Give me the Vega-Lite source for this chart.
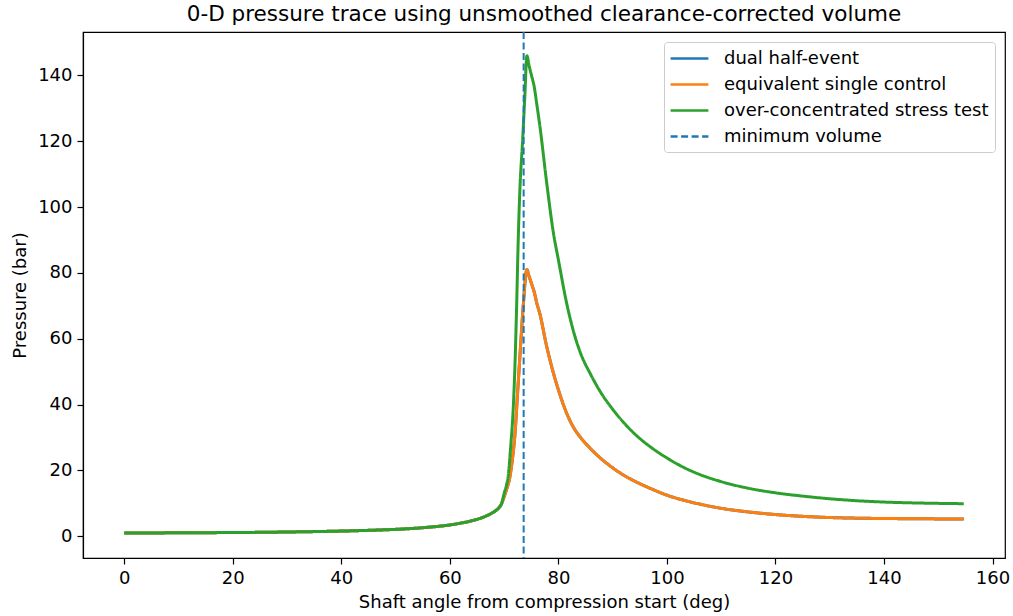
{
  "$schema": "https://vega.github.io/schema/vega-lite/v6.json",
  "width": 922,
  "height": 526,
  "autosize": {"type": "none"},
  "padding": {"left": 83, "top": 32, "right": 8, "bottom": 58},
  "background": "white",
  "title": {
    "text": "0-D pressure trace using unsmoothed clearance-corrected volume",
    "fontSize": 21.5,
    "font": "DejaVu Sans",
    "fontWeight": "normal",
    "color": "black",
    "anchor": "middle",
    "offset": 6
  },
  "config": {
    "view": {"stroke": "black", "strokeWidth": 1.2},
    "font": "DejaVu Sans",
    "axis": {
      "domainColor": "black",
      "domainWidth": 1.2,
      "tickColor": "black",
      "tickWidth": 1.2,
      "tickSize": 6,
      "labelColor": "black",
      "labelFontSize": 18,
      "labelFont": "DejaVu Sans",
      "labelPadding": 5,
      "titleColor": "black",
      "titleFontSize": 18,
      "titleFont": "DejaVu Sans",
      "titleFontWeight": "normal",
      "grid": false
    }
  },
  "data": {
    "values": [
      {"a": 0, "s": "dual half-event", "p": 1.0},
      {"a": 5, "s": "dual half-event", "p": 1.02},
      {"a": 10, "s": "dual half-event", "p": 1.05},
      {"a": 15, "s": "dual half-event", "p": 1.09},
      {"a": 20, "s": "dual half-event", "p": 1.14},
      {"a": 25, "s": "dual half-event", "p": 1.2},
      {"a": 30, "s": "dual half-event", "p": 1.3},
      {"a": 35, "s": "dual half-event", "p": 1.42},
      {"a": 40, "s": "dual half-event", "p": 1.58},
      {"a": 45, "s": "dual half-event", "p": 1.8},
      {"a": 50, "s": "dual half-event", "p": 2.1},
      {"a": 55, "s": "dual half-event", "p": 2.6},
      {"a": 58, "s": "dual half-event", "p": 3.05},
      {"a": 60, "s": "dual half-event", "p": 3.45},
      {"a": 62, "s": "dual half-event", "p": 4.0},
      {"a": 64, "s": "dual half-event", "p": 4.7},
      {"a": 66, "s": "dual half-event", "p": 5.7},
      {"a": 67, "s": "dual half-event", "p": 6.4},
      {"a": 68, "s": "dual half-event", "p": 7.3},
      {"a": 69, "s": "dual half-event", "p": 8.6},
      {"a": 69.5, "s": "dual half-event", "p": 9.8},
      {"a": 70, "s": "dual half-event", "p": 12},
      {"a": 70.5, "s": "dual half-event", "p": 14.5},
      {"a": 71, "s": "dual half-event", "p": 17.5},
      {"a": 71.5, "s": "dual half-event", "p": 23},
      {"a": 72, "s": "dual half-event", "p": 31},
      {"a": 72.5, "s": "dual half-event", "p": 44},
      {"a": 73, "s": "dual half-event", "p": 57},
      {"a": 73.5, "s": "dual half-event", "p": 69.5},
      {"a": 74.2, "s": "dual half-event", "p": 81},
      {"a": 74.6, "s": "dual half-event", "p": 79},
      {"a": 75.2, "s": "dual half-event", "p": 76},
      {"a": 75.5, "s": "dual half-event", "p": 74.5},
      {"a": 76, "s": "dual half-event", "p": 71},
      {"a": 76.6, "s": "dual half-event", "p": 67.5},
      {"a": 77.8, "s": "dual half-event", "p": 58},
      {"a": 79.1, "s": "dual half-event", "p": 49.5},
      {"a": 80, "s": "dual half-event", "p": 44.5},
      {"a": 81.5, "s": "dual half-event", "p": 37.5},
      {"a": 83, "s": "dual half-event", "p": 32.5},
      {"a": 84, "s": "dual half-event", "p": 30.2},
      {"a": 86, "s": "dual half-event", "p": 26.5},
      {"a": 88, "s": "dual half-event", "p": 23.4},
      {"a": 90, "s": "dual half-event", "p": 20.8},
      {"a": 92, "s": "dual half-event", "p": 18.6},
      {"a": 94, "s": "dual half-event", "p": 16.8},
      {"a": 97, "s": "dual half-event", "p": 14.5},
      {"a": 100, "s": "dual half-event", "p": 12.5},
      {"a": 103, "s": "dual half-event", "p": 11.0},
      {"a": 106, "s": "dual half-event", "p": 9.8},
      {"a": 110, "s": "dual half-event", "p": 8.5},
      {"a": 115, "s": "dual half-event", "p": 7.4},
      {"a": 120, "s": "dual half-event", "p": 6.6},
      {"a": 125, "s": "dual half-event", "p": 6.05},
      {"a": 130, "s": "dual half-event", "p": 5.7},
      {"a": 135, "s": "dual half-event", "p": 5.5},
      {"a": 140, "s": "dual half-event", "p": 5.4},
      {"a": 145, "s": "dual half-event", "p": 5.33},
      {"a": 150, "s": "dual half-event", "p": 5.28},
      {"a": 154.7, "s": "dual half-event", "p": 5.25},

      {"a": 0, "s": "equivalent single control", "p": 1.0},
      {"a": 5, "s": "equivalent single control", "p": 1.02},
      {"a": 10, "s": "equivalent single control", "p": 1.05},
      {"a": 15, "s": "equivalent single control", "p": 1.09},
      {"a": 20, "s": "equivalent single control", "p": 1.14},
      {"a": 25, "s": "equivalent single control", "p": 1.2},
      {"a": 30, "s": "equivalent single control", "p": 1.3},
      {"a": 35, "s": "equivalent single control", "p": 1.42},
      {"a": 40, "s": "equivalent single control", "p": 1.58},
      {"a": 45, "s": "equivalent single control", "p": 1.8},
      {"a": 50, "s": "equivalent single control", "p": 2.1},
      {"a": 55, "s": "equivalent single control", "p": 2.6},
      {"a": 58, "s": "equivalent single control", "p": 3.05},
      {"a": 60, "s": "equivalent single control", "p": 3.45},
      {"a": 62, "s": "equivalent single control", "p": 4.0},
      {"a": 64, "s": "equivalent single control", "p": 4.7},
      {"a": 66, "s": "equivalent single control", "p": 5.7},
      {"a": 67, "s": "equivalent single control", "p": 6.4},
      {"a": 68, "s": "equivalent single control", "p": 7.3},
      {"a": 69, "s": "equivalent single control", "p": 8.6},
      {"a": 69.5, "s": "equivalent single control", "p": 9.8},
      {"a": 70, "s": "equivalent single control", "p": 12},
      {"a": 70.5, "s": "equivalent single control", "p": 14.5},
      {"a": 71, "s": "equivalent single control", "p": 17.5},
      {"a": 71.5, "s": "equivalent single control", "p": 23},
      {"a": 72, "s": "equivalent single control", "p": 31},
      {"a": 72.5, "s": "equivalent single control", "p": 44},
      {"a": 73, "s": "equivalent single control", "p": 57},
      {"a": 73.5, "s": "equivalent single control", "p": 69.5},
      {"a": 74.2, "s": "equivalent single control", "p": 81},
      {"a": 74.6, "s": "equivalent single control", "p": 79},
      {"a": 75.2, "s": "equivalent single control", "p": 76},
      {"a": 75.5, "s": "equivalent single control", "p": 74.5},
      {"a": 76, "s": "equivalent single control", "p": 71},
      {"a": 76.6, "s": "equivalent single control", "p": 67.5},
      {"a": 77.8, "s": "equivalent single control", "p": 58},
      {"a": 79.1, "s": "equivalent single control", "p": 49.5},
      {"a": 80, "s": "equivalent single control", "p": 44.5},
      {"a": 81.5, "s": "equivalent single control", "p": 37.5},
      {"a": 83, "s": "equivalent single control", "p": 32.5},
      {"a": 84, "s": "equivalent single control", "p": 30.2},
      {"a": 86, "s": "equivalent single control", "p": 26.5},
      {"a": 88, "s": "equivalent single control", "p": 23.4},
      {"a": 90, "s": "equivalent single control", "p": 20.8},
      {"a": 92, "s": "equivalent single control", "p": 18.6},
      {"a": 94, "s": "equivalent single control", "p": 16.8},
      {"a": 97, "s": "equivalent single control", "p": 14.5},
      {"a": 100, "s": "equivalent single control", "p": 12.5},
      {"a": 103, "s": "equivalent single control", "p": 11.0},
      {"a": 106, "s": "equivalent single control", "p": 9.8},
      {"a": 110, "s": "equivalent single control", "p": 8.5},
      {"a": 115, "s": "equivalent single control", "p": 7.4},
      {"a": 120, "s": "equivalent single control", "p": 6.6},
      {"a": 125, "s": "equivalent single control", "p": 6.05},
      {"a": 130, "s": "equivalent single control", "p": 5.7},
      {"a": 135, "s": "equivalent single control", "p": 5.5},
      {"a": 140, "s": "equivalent single control", "p": 5.4},
      {"a": 145, "s": "equivalent single control", "p": 5.33},
      {"a": 150, "s": "equivalent single control", "p": 5.28},
      {"a": 154.7, "s": "equivalent single control", "p": 5.25},

      {"a": 0, "s": "over-concentrated stress test", "p": 1.0},
      {"a": 5, "s": "over-concentrated stress test", "p": 1.02},
      {"a": 10, "s": "over-concentrated stress test", "p": 1.05},
      {"a": 15, "s": "over-concentrated stress test", "p": 1.09},
      {"a": 20, "s": "over-concentrated stress test", "p": 1.14},
      {"a": 25, "s": "over-concentrated stress test", "p": 1.2},
      {"a": 30, "s": "over-concentrated stress test", "p": 1.3},
      {"a": 35, "s": "over-concentrated stress test", "p": 1.42},
      {"a": 40, "s": "over-concentrated stress test", "p": 1.58},
      {"a": 45, "s": "over-concentrated stress test", "p": 1.8},
      {"a": 50, "s": "over-concentrated stress test", "p": 2.1},
      {"a": 55, "s": "over-concentrated stress test", "p": 2.6},
      {"a": 58, "s": "over-concentrated stress test", "p": 3.05},
      {"a": 60, "s": "over-concentrated stress test", "p": 3.45},
      {"a": 62, "s": "over-concentrated stress test", "p": 4.0},
      {"a": 64, "s": "over-concentrated stress test", "p": 4.7},
      {"a": 66, "s": "over-concentrated stress test", "p": 5.7},
      {"a": 67, "s": "over-concentrated stress test", "p": 6.4},
      {"a": 68, "s": "over-concentrated stress test", "p": 7.3},
      {"a": 69, "s": "over-concentrated stress test", "p": 8.6},
      {"a": 69.5, "s": "over-concentrated stress test", "p": 9.8},
      {"a": 70, "s": "over-concentrated stress test", "p": 13},
      {"a": 70.5, "s": "over-concentrated stress test", "p": 16},
      {"a": 70.8, "s": "over-concentrated stress test", "p": 19},
      {"a": 71.2, "s": "over-concentrated stress test", "p": 27},
      {"a": 71.7, "s": "over-concentrated stress test", "p": 39.5},
      {"a": 72, "s": "over-concentrated stress test", "p": 52},
      {"a": 72.3, "s": "over-concentrated stress test", "p": 69.5},
      {"a": 72.6, "s": "over-concentrated stress test", "p": 90},
      {"a": 72.9, "s": "over-concentrated stress test", "p": 105},
      {"a": 73.4, "s": "over-concentrated stress test", "p": 120},
      {"a": 73.8, "s": "over-concentrated stress test", "p": 133},
      {"a": 74.2, "s": "over-concentrated stress test", "p": 146},
      {"a": 74.6, "s": "over-concentrated stress test", "p": 143},
      {"a": 75.2, "s": "over-concentrated stress test", "p": 139},
      {"a": 75.5, "s": "over-concentrated stress test", "p": 137},
      {"a": 76, "s": "over-concentrated stress test", "p": 131.5},
      {"a": 76.6, "s": "over-concentrated stress test", "p": 124.5},
      {"a": 77.8, "s": "over-concentrated stress test", "p": 108},
      {"a": 79.1, "s": "over-concentrated stress test", "p": 92},
      {"a": 80, "s": "over-concentrated stress test", "p": 84},
      {"a": 81.5, "s": "over-concentrated stress test", "p": 71},
      {"a": 83, "s": "over-concentrated stress test", "p": 61},
      {"a": 84, "s": "over-concentrated stress test", "p": 56},
      {"a": 86, "s": "over-concentrated stress test", "p": 49},
      {"a": 88, "s": "over-concentrated stress test", "p": 43.2},
      {"a": 90, "s": "over-concentrated stress test", "p": 38.6},
      {"a": 92, "s": "over-concentrated stress test", "p": 34.6},
      {"a": 94, "s": "over-concentrated stress test", "p": 31.2},
      {"a": 97, "s": "over-concentrated stress test", "p": 27.1},
      {"a": 100, "s": "over-concentrated stress test", "p": 23.8},
      {"a": 103, "s": "over-concentrated stress test", "p": 21},
      {"a": 106, "s": "over-concentrated stress test", "p": 18.8},
      {"a": 110, "s": "over-concentrated stress test", "p": 16.6},
      {"a": 115, "s": "over-concentrated stress test", "p": 14.6},
      {"a": 120, "s": "over-concentrated stress test", "p": 13.2},
      {"a": 125, "s": "over-concentrated stress test", "p": 12.2},
      {"a": 130, "s": "over-concentrated stress test", "p": 11.4},
      {"a": 135, "s": "over-concentrated stress test", "p": 10.8},
      {"a": 140, "s": "over-concentrated stress test", "p": 10.4},
      {"a": 145, "s": "over-concentrated stress test", "p": 10.15},
      {"a": 150, "s": "over-concentrated stress test", "p": 10.0},
      {"a": 154.7, "s": "over-concentrated stress test", "p": 9.9}
    ]
  },
  "encoding": {
    "x": {
      "field": "a",
      "type": "quantitative",
      "title": "Shaft angle from compression start (deg)",
      "scale": {"domain": [-7.6, 162.3], "nice": false, "zero": false},
      "axis": {"values": [0, 20, 40, 60, 80, 100, 120, 140, 160], "titlePadding": 6}
    },
    "color": {
      "field": "s",
      "type": "nominal",
      "title": null,
      "scale": {
        "domain": ["dual half-event", "equivalent single control", "over-concentrated stress test", "minimum volume"],
        "range": ["#1f77b4", "#ff7f0e", "#2ca02c", "#1f77b4"]
      },
      "legend": {
        "orient": "top-right",
        "offset": 10,
        "padding": 6,
        "strokeColor": "#cccccc",
        "fillColor": "white",
        "cornerRadius": 3,
        "labelFontSize": 18,
        "labelFont": "DejaVu Sans",
        "labelColor": "black",
        "labelOffset": 33,
        "symbolType": "M-1.1,0H3.1",
        "symbolSize": 324,
        "symbolStrokeWidth": 2.7,
        "symbolFillColor": "transparent",
        "rowPadding": 6,
        "labelLimit": 400
      }
    },
    "strokeDash": {
      "field": "s",
      "type": "nominal",
      "title": null,
      "scale": {
        "domain": ["dual half-event", "equivalent single control", "over-concentrated stress test", "minimum volume"],
        "range": [[1, 0], [1, 0], [1, 0], [7, 3.5]]
      },
      "legend": {
        "orient": "top-right",
        "offset": 10,
        "padding": 6,
        "strokeColor": "#cccccc",
        "fillColor": "white",
        "cornerRadius": 3,
        "labelFontSize": 18,
        "labelFont": "DejaVu Sans",
        "labelColor": "black",
        "labelOffset": 33,
        "symbolType": "M-1.1,0H3.1",
        "symbolSize": 324,
        "symbolStrokeWidth": 2.7,
        "symbolFillColor": "transparent",
        "rowPadding": 6,
        "labelLimit": 400
      }
    }
  },
  "layer": [
    {
      "transform": [{"filter": "datum.s === 'dual half-event'"}],
      "mark": {"type": "line", "strokeWidth": 3, "interpolate": "monotone"},
      "encoding": {
        "y": {
          "field": "p",
          "type": "quantitative",
          "title": "Pressure (bar)",
          "scale": {"domain": [-6.6, 153.2], "nice": false, "zero": false},
          "axis": {"values": [0, 20, 40, 60, 80, 100, 120, 140], "titlePadding": 8}
        }
      }
    },
    {
      "transform": [{"filter": "datum.s === 'equivalent single control'"}],
      "mark": {"type": "line", "strokeWidth": 3, "interpolate": "monotone"},
      "encoding": {"y": {"field": "p", "type": "quantitative"}}
    },
    {
      "transform": [{"filter": "datum.s === 'over-concentrated stress test'"}],
      "mark": {"type": "line", "strokeWidth": 3, "interpolate": "monotone"},
      "encoding": {"y": {"field": "p", "type": "quantitative"}}
    },
    {
      "data": {"values": [{"a": 73.6, "s": "minimum volume"}]},
      "mark": {"type": "rule", "strokeWidth": 2},
      "encoding": {}
    }
  ]
}
